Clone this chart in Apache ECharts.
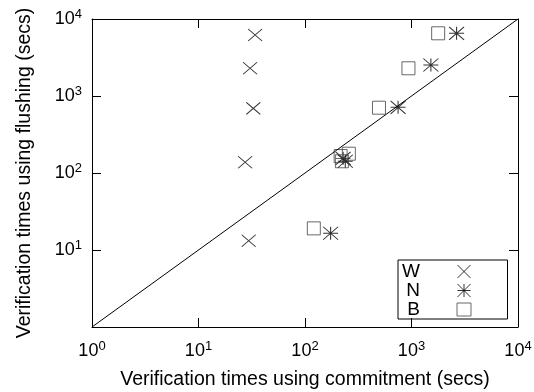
<!DOCTYPE html>
<html>
<head>
<meta charset="utf-8">
<script src="https://cdn.jsdelivr.net/npm/echarts@6/dist/echarts.min.js"></script>
<style>
html, body { margin: 0; padding: 0; background: #fff; }
#main { width: 534px; height: 392px; }
</style>
</head>
<body>
<div id="main"></div>
<script>
var chartDom = document.getElementById('main');
var myChart = echarts.init(chartDom);

// data (secs)
var wX = [34, 30.5, 32.7, 27.4, 29.6];
var wY = [6200, 2290, 692, 138, 13.2];
var nX = [2650, 1520, 748, 239, 228, 174];
var nY = [6520, 2530, 713, 142, 155, 16.5];
var bX = [1780, 936, 495, 216, 258, 222, 121];
var bY = [6520, 2290, 705, 166, 178, 142, 19.1];
var seriesNames = ['W', 'N', 'B'];
var axisMin = 1, axisMax = 10000;

function pairs(xs, ys) {
    return xs.map(function (x, i) { return [x, ys[i]]; });
}

var FONT = 'Liberation Sans';
var crossPath = 'path://M0,0L10,10M10,0L0,10';
var starPath = 'path://M5,0L5,10M0,5L10,5M0,0L10,10M10,0L0,10';

function powLabel(v) {
    var e = Math.round(Math.log(v) / Math.LN10);
    return '{b|10}{s|' + e + '}';
}
var labelRich = {
    b: { fontSize: 18, fontFamily: FONT, color: '#000' },
    s: { fontSize: 13, fontFamily: FONT, color: '#000', padding: [0, 0, 10, 0] }
};

var lineStyle = { color: '#000', width: 1 };

var option = {
    animation: false,
    backgroundColor: '#fff',
    grid: { left: 92, right: 16, top: 19, bottom: 65, outerBoundsMode: 'none', containLabel: false },
    legend: {
        orient: 'vertical',
        left: 398,
        top: 260,
        align: 'right',
        itemGap: 0,
        itemWidth: 14,
        itemHeight: 13,
        borderColor: '#000',
        borderWidth: 1,
        borderRadius: 0,
        padding: [2, 36, 0, 3],
        itemStyle: { borderWidth: 1 },
        data: seriesNames,
        formatter: function (name) { return '{a|' + name + '}'; },
        textStyle: {
            rich: {
                a: { fontSize: 19, fontFamily: FONT, color: '#000', width: 19, align: 'right', padding: [0, 32, 0, 0], lineHeight: 19 }
            }
        }
    },
    xAxis: [{
        type: 'log',
        logBase: 10,
        min: axisMin,
        max: axisMax,
        name: 'Verification times using commitment (secs)',
        nameLocation: 'middle',
        nameGap: 43,
        nameTextStyle: { fontSize: 19.5, fontFamily: FONT, color: '#000' },
        axisLine: { lineStyle: lineStyle },
        axisTick: { inside: true, length: 9, lineStyle: lineStyle },
        minorTick: { show: false },
        splitLine: { show: false },
        axisLabel: { margin: 13, formatter: powLabel, rich: labelRich }
    }, {
        type: 'log',
        logBase: 10,
        min: axisMin,
        max: axisMax,
        position: 'top',
        axisLine: { lineStyle: lineStyle },
        axisTick: { inside: true, length: 9, lineStyle: lineStyle },
        splitLine: { show: false },
        axisLabel: { show: false }
    }],
    yAxis: [{
        type: 'log',
        logBase: 10,
        min: axisMin,
        max: axisMax,
        name: 'Verification times using flushing (secs)',
        nameLocation: 'middle',
        nameGap: 57,
        nameTextStyle: { fontSize: 19.5, fontFamily: FONT, color: '#000' },
        axisLine: { lineStyle: lineStyle },
        axisTick: { inside: true, length: 9, lineStyle: lineStyle },
        splitLine: { show: false },
        axisLabel: { margin: 10, formatter: function (v) { return v <= 1 ? '' : powLabel(v); }, rich: labelRich }
    }, {
        type: 'log',
        logBase: 10,
        min: axisMin,
        max: axisMax,
        position: 'right',
        axisLine: { lineStyle: lineStyle },
        axisTick: { inside: true, length: 9, lineStyle: lineStyle },
        splitLine: { show: false },
        axisLabel: { show: false }
    }],
    series: [
        {
            type: 'line',
            data: [[axisMin, axisMin], [axisMax, axisMax]],
            showSymbol: false,
            symbol: 'none',
            lineStyle: lineStyle,
            silent: true
        },
        {
            name: 'W',
            type: 'scatter',
            data: pairs(wX, wY),
            symbol: crossPath,
            symbolSize: [14, 12],
            itemStyle: { color: 'transparent', borderColor: '#000', borderWidth: 1 }
        },
        {
            name: 'N',
            type: 'scatter',
            data: pairs(nX, nY),
            symbol: starPath,
            symbolSize: [15, 13],
            itemStyle: { color: 'transparent', borderColor: '#000', borderWidth: 1 }
        },
        {
            name: 'B',
            type: 'scatter',
            data: pairs(bX, bY),
            symbol: 'rect',
            symbolSize: 13,
            itemStyle: { color: 'transparent', borderColor: '#444', borderWidth: 1 }
        }
    ]
};

myChart.setOption(option);
window.addEventListener('resize', function () {
    myChart.resize();
});
</script>
</body>
</html>
